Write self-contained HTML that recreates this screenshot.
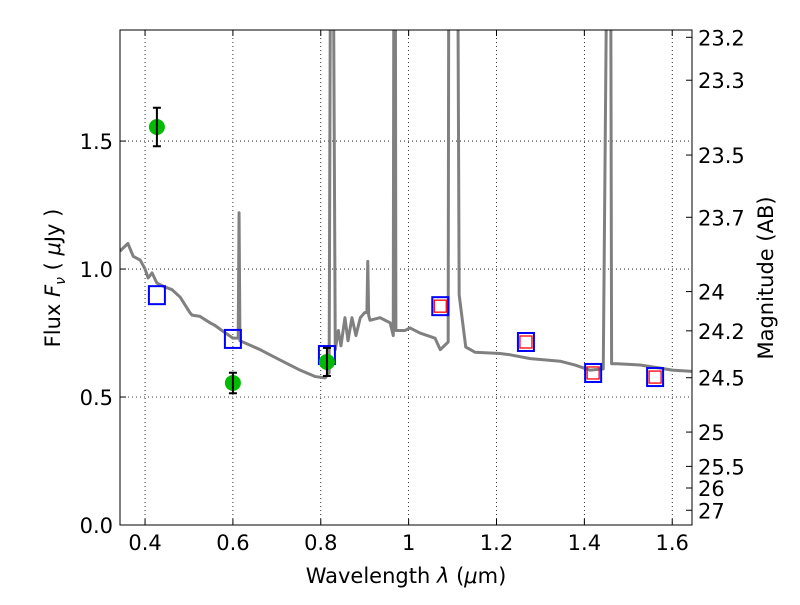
<!DOCTYPE html>
<html><head><meta charset="utf-8"><style>
body{margin:0;background:#fff}
svg text{font-family:"DejaVu Sans","Liberation Sans",sans-serif;fill:#000}
</style></head><body>
<svg id="chart" width="800" height="600"></svg>
<script>
const specLam=[0.343,0.361,0.373,0.389,0.40,0.407,0.416,0.427,0.445,0.461,0.48,0.502,0.507,0.525,0.548,0.559,0.575,0.60,0.612,0.614,0.616,0.662,0.707,0.753,0.787,0.81,0.819,0.8235,0.8245,0.8255,0.8265,0.833,0.84,0.846,0.855,0.862,0.871,0.88,0.89,0.90,0.905,0.907,0.909,0.912,0.935,0.958,0.965,0.967,0.969,0.971,0.974,0.992,1.003,1.026,1.06,1.072,1.09,1.092,1.094,1.11,1.115,1.13,1.151,1.208,1.231,1.277,1.31,1.345,1.379,1.413,1.443,1.455,1.459,1.462,1.475,1.527,1.573,1.6,1.645];
const specFlux=[1.07,1.10,1.05,1.035,1.0,0.965,0.985,0.945,0.93,0.92,0.89,0.83,0.82,0.815,0.79,0.78,0.76,0.73,0.73,1.22,0.72,0.685,0.645,0.605,0.58,0.575,0.594,3.0,3.0,3.0,3.0,0.685,0.76,0.70,0.81,0.72,0.81,0.74,0.81,0.83,0.83,1.03,0.82,0.80,0.81,0.79,0.74,3.0,3.0,0.76,0.76,0.76,0.77,0.75,0.73,0.685,0.715,3.0,3.0,3.0,0.9,0.695,0.675,0.67,0.665,0.65,0.645,0.64,0.625,0.605,0.61,3.0,3.0,0.63,0.63,0.625,0.613,0.605,0.60];
const obsLam=[0.427,0.60,0.814];
const obsFlux=[1.555,0.555,0.637];
const obsErr=[0.075,0.04,0.055];
const modLam=[0.427,0.60,0.814,1.072,1.267,1.42,1.561];
const modFlux=[0.898,0.727,0.664,0.855,0.715,0.594,0.578];
const nirLam=[1.072,1.267,1.42,1.561];
const nirFlux=[0.855,0.715,0.594,0.578];
const xTicks=[0.4,0.6,0.8,1.0,1.2,1.4,1.6];
const xTickLabels=["0.4","0.6","0.8","1","1.2","1.4","1.6"];
const yTicks=[0,0.5,1.0,1.5];
const yTickLabels=["0.0","0.5","1.0","1.5"];
const magTicks=[23.2,23.3,23.5,23.7,24,24.2,24.5,25,25.5,26,27];

const L=120,R=692,T=30,B=525,xmin=0.343,xmax=1.645,ymin=0,ymax=1.934;
const X=v=>L+(v-xmin)/(xmax-xmin)*(R-L);
const Y=v=>B-(v-ymin)/(ymax-ymin)*(B-T);
const NS="http://www.w3.org/2000/svg";
const svg=document.getElementById('chart');
function mk(t,a,p){const e=document.createElementNS(NS,t);for(const k in a)e.setAttribute(k,a[k]);(p||svg).appendChild(e);return e;}
const defs=mk('defs',{});const cp=mk('clipPath',{id:'cp'},defs);mk('rect',{x:L,y:T,width:R-L,height:B-T},cp);

xTicks.forEach((v,i)=>{
 const g=mk('line',{x1:X(v),x2:X(v),y1:T,y2:B,stroke:'#000','stroke-dasharray':'1,3','stroke-width':0.8});
 
 mk('line',{x1:X(v),x2:X(v),y1:B,y2:B-6,stroke:'#000'});mk('line',{x1:X(v),x2:X(v),y1:T,y2:T+6,stroke:'#000'});
 const t=mk('text',{x:X(v),y:B+25,'text-anchor':'middle','font-size':21});t.textContent=xTickLabels[i];
 
});
yTicks.forEach((v,i)=>{
 const g=mk('line',{x1:L,x2:R,y1:Y(v),y2:Y(v),stroke:'#000','stroke-dasharray':'1,3','stroke-width':0.8});
 
 mk('line',{x1:L,x2:L+6,y1:Y(v),y2:Y(v),stroke:'#000'});
 const t=mk('text',{x:L-7,y:Y(v)+8,'text-anchor':'end','font-size':21});t.textContent=yTickLabels[i];
 
});
magTicks.forEach(m=>{
 const y=Y(Math.pow(10,(23.9-m)/2.5));
 mk('line',{x1:R,x2:R-6,y1:y,y2:y,stroke:'#000'});
 const t=mk('text',{x:R+6,y:y+8,'font-size':21});t.textContent=String(m);
 
});
const pl=mk('polyline',{points:specLam.map((v,i)=>X(v)+','+Y(specFlux[i])).join(' '),fill:'none',stroke:'#808080','stroke-width':3,'clip-path':'url(#cp)','stroke-linejoin':'round'});

modLam.forEach((v,i)=>{
 const r=mk('rect',{x:X(v)-8,y:Y(modFlux[i])-9,width:16,height:18,fill:'none',stroke:'#0000ff','stroke-width':2});
 
});
nirLam.forEach((v,i)=>{
 const r=mk('rect',{x:X(v)-6,y:Y(nirFlux[i])-6,width:12,height:12,fill:'none',stroke:'#ff0000','stroke-width':1.3});
 
});
obsLam.forEach((v,i)=>{
 const c=mk('circle',{cx:X(v),cy:Y(obsFlux[i]),r:8,fill:'#00bb00'});
 
 const x=X(v),y1=Y(obsFlux[i]+obsErr[i]),y2=Y(obsFlux[i]-obsErr[i]);
 const e=mk('path',{d:`M${x},${y1}V${y2}M${x-4},${y1}H${x+4}M${x-4},${y2}H${x+4}`,stroke:'#000','stroke-width':2,fill:'none'});
 
});
const fr=mk('rect',{x:L,y:T,width:R-L,height:B-T,fill:'none',stroke:'#000','stroke-width':1});

const xl=mk('text',{x:406,y:583,'text-anchor':'middle','font-size':21});xl.innerHTML='Wavelength  <tspan font-style="italic">λ</tspan> (<tspan font-style="italic">μ</tspan>m)';

const yl=mk('text',{transform:'translate(60,278) rotate(-90)','text-anchor':'middle','font-size':21});yl.innerHTML='Flux  <tspan font-style="italic">F<tspan font-size="14" dy="5">ν</tspan></tspan><tspan dy="-5">  ( </tspan><tspan font-style="italic">μ</tspan>Jy )';

const rl=mk('text',{transform:'translate(773,278) rotate(-90)','text-anchor':'middle','font-size':21});rl.textContent='Magnitude (AB)';

</script>
</body></html>
